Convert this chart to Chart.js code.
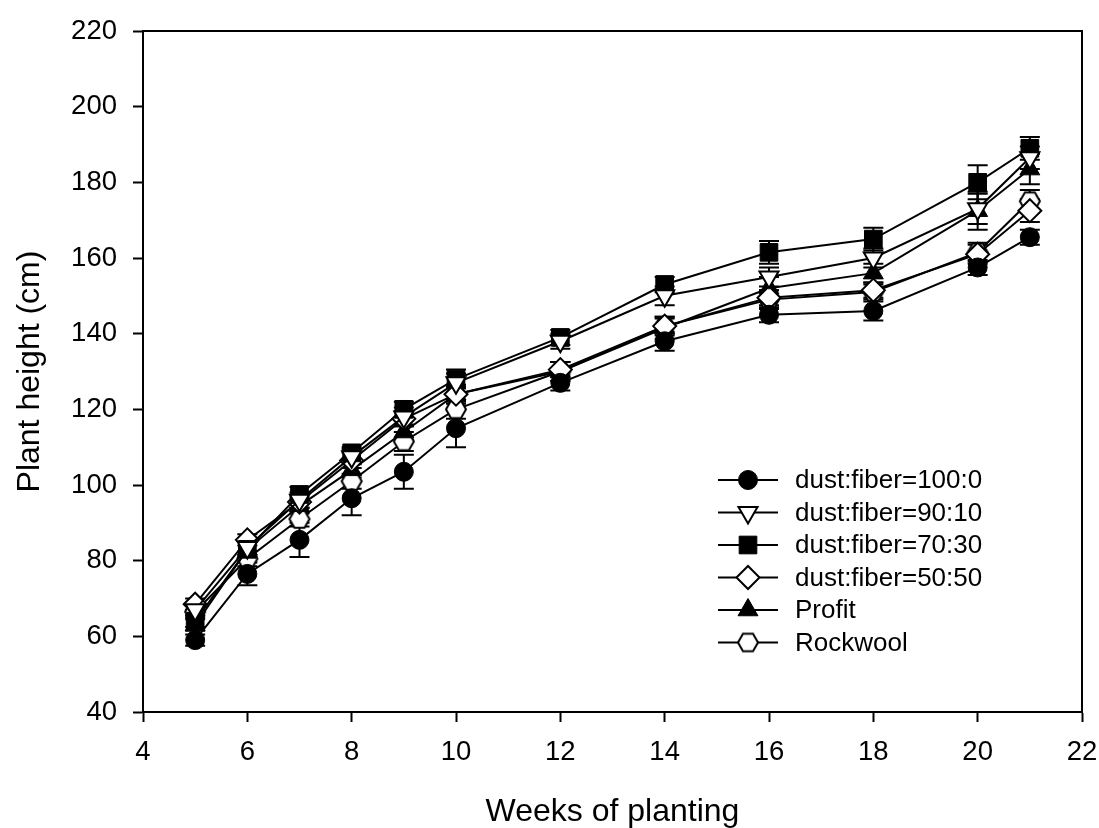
<!DOCTYPE html>
<html>
<head>
<meta charset="utf-8">
<script src="https://cdn.jsdelivr.net/npm/chart.js@4"></script>
<style>
  html, body { margin: 0; padding: 0; background: #fff; }
</style>
</head>
<body>
<canvas id="chartHeight" width="1099" height="828"></canvas>
<script>
// weeks after planting
const weeks = [5, 6, 7, 8, 9, 10, 12, 14, 16, 18, 20, 21];

const seriesNames = ['dust:fiber=100:0', 'dust:fiber=90:10', 'dust:fiber=70:30', 'dust:fiber=50:50', 'Profit', 'Rockwool'];

// plant height (cm)
const dust100 = [59, 76.5, 85.5, 96.5, 103.5, 115, 127, 138, 145, 146, 157.5, 165.5];
const dust90 = [67, 83.5, 96, 107.5, 118, 127, 138, 150, 155, 160, 173, 186.5];
const dust70 = [64, 83, 97.5, 108.5, 120, 128, 139, 153, 161.5, 165, 180, 189];
const dust50 = [68.5, 85.5, 95.5, 106.5, 117.5, 124, 130.5, 142, 149.5, 151.5, 161, 172.5];
const profit = [63, 83, 94.5, 104, 114, 124, 130, 141.5, 152, 156, 172.5, 183.5];
const rockwool = [66.5, 80.5, 91, 101, 111.5, 120, 130, 142, 149, 151, 161.5, 175];

// error bars (+/-)
const err100 = [1.5, 3, 4.5, 4.5, 4.5, 5, 2, 2.5, 2, 2.5, 2, 2];
const err90 = [1.5, 2, 2, 2, 2.5, 2.5, 2, 2.5, 2.5, 2.5, 4, 3];
const err70 = [1.5, 2, 2, 1.5, 2, 2.5, 2, 2, 3, 3, 4.5, 3];
const err50 = [1.5, 1.5, 1.5, 2, 2, 2, 2, 2, 2, 2, 2.5, 3];
const errProfit = [1.5, 2, 2, 2, 2, 2.5, 2.5, 3, 3, 2.5, 5, 4];
const errRockwool = [1.5, 2, 2, 2, 2.5, 2.5, 2.5, 2.5, 2.5, 2, 2.5, 3];

const FONT = "'Liberation Sans', Arial, Helvetica, sans-serif";

function hexagonMarker(r) {
  const c = document.createElement('canvas');
  const s = Math.ceil(2 * r + 4);
  c.width = s; c.height = s;
  const g = c.getContext('2d');
  g.beginPath();
  for (let k = 0; k < 6; k++) {
    const a = Math.PI / 3 * k;
    const px = s / 2 + r * Math.cos(a), py = s / 2 + r * Math.sin(a);
    if (k) g.lineTo(px, py); else g.moveTo(px, py);
  }
  g.closePath();
  g.fillStyle = '#fff'; g.fill();
  g.lineWidth = 2; g.strokeStyle = '#000'; g.stroke();
  return c;
}

const toPoints = vals => vals.map((v, i) => ({ x: weeks[i], y: v }));

const makeSet = (label, vals, errs, style) => Object.assign({
  label: label,
  data: toPoints(vals),
  errors: errs,
  borderColor: '#000',
  borderWidth: 2,
  pointBorderColor: '#000',
  pointBorderWidth: 2,
  tension: 0,
  fill: false
}, style);

const datasets = [
  makeSet(seriesNames[0], dust100, err100, { pointStyle: 'circle', pointRadius: 9.5, pointBackgroundColor: '#000', pointBorderWidth: 1 }),
  makeSet(seriesNames[1], dust90, err90, { pointStyle: 'triangle', pointRotation: 180, pointRadius: 11, pointBackgroundColor: '#fff' }),
  makeSet(seriesNames[2], dust70, err70, { pointStyle: 'rect', pointRadius: 12.5, pointBackgroundColor: '#000', pointBorderWidth: 1 }),
  makeSet(seriesNames[3], dust50, err50, { pointStyle: 'rectRot', pointRadius: 11.5, pointBackgroundColor: '#fff' }),
  makeSet(seriesNames[4], profit, errProfit, { pointStyle: 'triangle', pointRadius: 11.5, pointBackgroundColor: '#000', pointBorderWidth: 1 }),
  makeSet(seriesNames[5], rockwool, errRockwool, { pointStyle: hexagonMarker(10), pointRadius: 10, pointBackgroundColor: '#fff' })
];

// box around the plot + error bars
const frameAndErrors = {
  id: 'frameAndErrors',
  beforeDatasetsDraw(chart) {
    const { ctx, chartArea: a } = chart;
    const yScale = chart.scales.y;
    ctx.save();
    ctx.strokeStyle = '#000';
    ctx.lineWidth = 2;
    ctx.beginPath();
    ctx.moveTo(a.left, a.top); ctx.lineTo(a.right, a.top); ctx.lineTo(a.right, a.bottom);
    ctx.stroke();
    chart.data.datasets.forEach((ds, di) => {
      chart.getDatasetMeta(di).data.forEach((pt, i) => {
        const e = ds.errors[i];
        const yt = yScale.getPixelForValue(ds.data[i].y + e);
        const yb = yScale.getPixelForValue(ds.data[i].y - e);
        ctx.beginPath();
        ctx.moveTo(pt.x, yt); ctx.lineTo(pt.x, yb);
        ctx.moveTo(pt.x - 10, yt); ctx.lineTo(pt.x + 10, yt);
        ctx.moveTo(pt.x - 10, yb); ctx.lineTo(pt.x + 10, yb);
        ctx.stroke();
      });
    });
    ctx.restore();
  }
};

// legend drawn inside the plot, lower right
const legendInside = {
  id: 'legendInside',
  afterDraw(chart) {
    const ctx = chart.ctx;
    ctx.save();
    ctx.font = '26px ' + FONT;
    ctx.textBaseline = 'middle';
    chart.data.datasets.forEach((ds, i) => {
      const y = 480 + i * 32.5;
      ctx.strokeStyle = '#000';
      ctx.lineWidth = 2;
      ctx.beginPath();
      ctx.moveTo(718, y); ctx.lineTo(778, y);
      ctx.stroke();
      ctx.fillStyle = ds.pointBackgroundColor;
      ctx.lineWidth = ds.pointBorderWidth;
      Chart.helpers.drawPoint(ctx, {
        pointStyle: ds.pointStyle,
        rotation: ds.pointRotation || 0,
        radius: ds.pointRadius,
        borderWidth: ds.pointBorderWidth
      }, 748, y);
      ctx.fillStyle = '#000';
      ctx.fillText(ds.label, 795, y + 1);
    });
    ctx.restore();
  }
};

new Chart(document.getElementById('chartHeight').getContext('2d'), {
  type: 'line',
  data: { datasets: datasets },
  options: {
    responsive: false,
    animation: false,
    layout: { padding: { top: 31, right: 17, left: 0, bottom: 0 } },
    plugins: {
      legend: { display: false },
      tooltip: { enabled: false }
    },
    scales: {
      x: {
        type: 'linear',
        min: 4,
        max: 22,
        ticks: { stepSize: 2, color: '#000', font: { family: FONT, size: 27.5 }, padding: 14, maxRotation: 0 },
        grid: { drawOnChartArea: false, drawTicks: true, tickLength: 10, tickWidth: 2, tickColor: '#000' },
        border: { display: true, color: '#000', width: 2 },
        title: { display: true, text: 'Weeks of planting', color: '#000', font: { family: FONT, size: 32, lineHeight: 1 }, padding: { top: 0, bottom: 0 } },
        afterFit(scale) {
          scale.height = 116;
          scale.paddingLeft = 0;
          scale.paddingRight = 0;
        }
      },
      y: {
        min: 40,
        max: 220,
        ticks: { stepSize: 20, color: '#000', font: { family: FONT, size: 27.5 }, padding: 16 },
        grid: { drawOnChartArea: false, drawTicks: true, tickLength: 10, tickWidth: 2, tickColor: '#000' },
        border: { display: true, color: '#000', width: 2 },
        title: { display: true, text: 'Plant height (cm)', color: '#000', font: { family: FONT, size: 32, lineHeight: 1 }, padding: { top: 14, bottom: 0 } },
        afterFit(scale) {
          scale.width = 143;
          scale.paddingTop = 0;
          scale.paddingBottom = 0;
        }
      }
    }
  },
  plugins: [frameAndErrors, legendInside]
});
</script>
</body>
</html>
